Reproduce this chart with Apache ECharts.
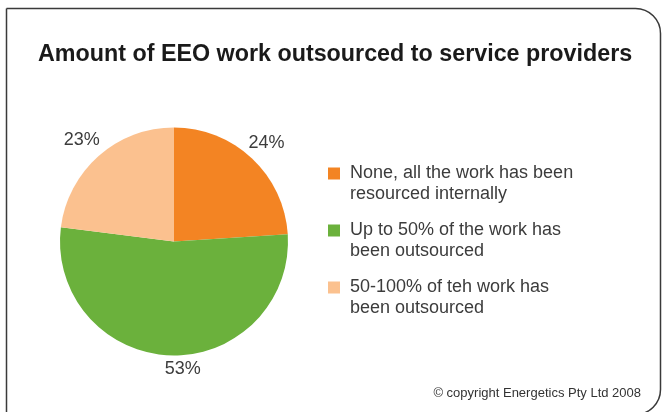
<!DOCTYPE html>
<html>
<head>
<meta charset="utf-8">
<script src="https://cdn.jsdelivr.net/npm/echarts@6/dist/echarts.min.js"></script>
<style>html,body{margin:0;padding:0;background:#fff}#c{width:662px;height:412px}</style>
</head>
<body>
<div id="c"></div>
<script>
const titleText = 'Amount of EEO work outsourced to service providers';
const categories = [
  'None, all the work has been\nresourced internally',
  'Up to 50% of the work has\nbeen outsourced',
  '50-100% of teh work has\nbeen outsourced'
];
const values = [24, 53, 23];
const colors = ['#F38423', '#6BB13C', '#FBC18F'];
const copyrightText = '\u00A9 copyright Energetics Pty Ltd 2008';

const FONT = '"Liberation Sans", Arial, Helvetica, sans-serif';
const labelPads = [[0,0,0,0],[0,0,0,26],[0,6,0,0]];
const labelLift = [false, true, false];

const chart = echarts.init(document.getElementById('c'), null, {renderer: 'canvas'});
chart.setOption({
  animation: false,
  backgroundColor: '#fff',
  title: {
    text: titleText,
    left: 33,
    top: 38,
    textStyle: {fontFamily: FONT, fontSize: 23.3, fontWeight: 'bold', color: '#1a1a1a'}
  },
  legend: {
    orient: 'vertical',
    left: 323,
    top: 137,
    itemWidth: 12,
    itemHeight: 12,
    itemGap: -6,
    icon: 'rect',
    selectedMode: false,
    data: categories.map((c, i) => ({name: c, itemStyle: {color: colors[i]}})),
    formatter: n => '\n' + n,
    textStyle: {fontFamily: FONT, fontSize: 18, lineHeight: 21, color: '#3c3c3c', padding: [0,0,0,5]}
  },
  graphic: [
    {type: 'rect', shape: {x: 6.5, y: 8.5, width: 654, height: 406, r: [0, 25, 25, 0]},
     style: {fill: 'none', stroke: '#3a3a3a', lineWidth: 1.5}, silent: true},
    {type: 'text', right: 21, top: 387,
     style: {text: copyrightText, font: '13px ' + FONT, fill: '#333'}}
  ],
  series: [
    {
      type: 'pie',
      center: [174, 241.5],
      radius: [0, 114],
      startAngle: 90,
      clockwise: true,
      silent: true,
      label: {show: false},
      labelLine: {show: false},
      itemStyle: {borderWidth: 0},
      data: categories.map((c, i) => ({name: c, value: values[i], itemStyle: {color: colors[i]}}))
    },
    {
      type: 'pie',
      center: [174, 241.5],
      radius: [120, 144],
      startAngle: 90,
      clockwise: true,
      silent: true,
      legendHoverLink: false,
      itemStyle: {color: 'rgba(0,0,0,0)'},
      label: {show: true, position: 'inside', fontFamily: FONT, fontSize: 18, color: '#3c3c3c',
              formatter: p => p.value + '%' + (labelLift[p.dataIndex] ? '\n' : '')},
      labelLine: {show: false},
      data: categories.map((c, i) => ({name: c, value: values[i],
        label: {padding: labelPads[i], lineHeight: labelLift[i] ? 14 : 20}}))
    }
  ]
});
</script>
</body>
</html>
